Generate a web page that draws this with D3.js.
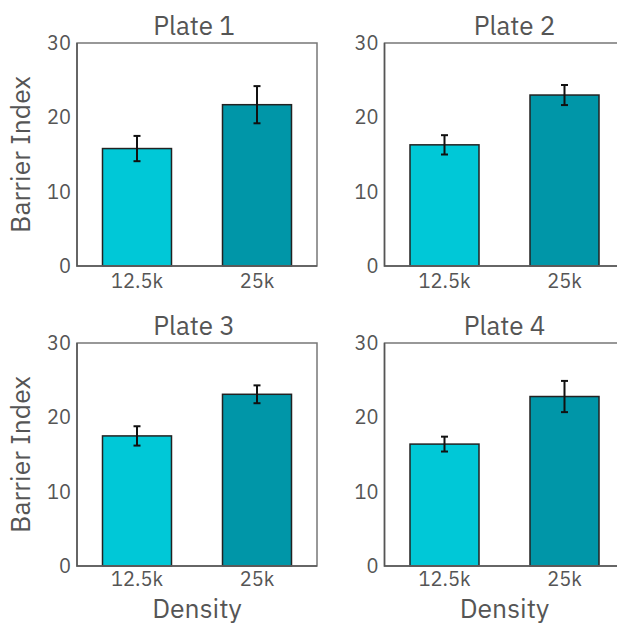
<!DOCTYPE html>
<html>
<head>
<meta charset="utf-8">
<script src="https://cdn.jsdelivr.net/npm/d3@7"></script>
<style>
  html, body { margin: 0; padding: 0; background: #fff; }
  svg { display: block; }
  text { font-family: "IBM Plex Sans", "Noto Sans", sans-serif; fill: #555; }
</style>
</head>
<body>
<svg id="chart" width="617" height="624"></svg>
<script>
// ---- data ----
const plates = ["Plate 1", "Plate 2", "Plate 3", "Plate 4"];
const densities = ["12.5k", "25k"];
const meanValues = [
  [15.8, 21.7],
  [16.3, 23.0],
  [17.5, 23.1],
  [16.4, 22.8]
];
const errorValues = [
  [1.7, 2.5],
  [1.3, 1.35],
  [1.3, 1.2],
  [1.0, 2.1]
];
const yTicks = [0, 10, 20, 30];
const yLabel = "Barrier Index";
const xLabel = "Density";

// ---- layout ----
const colLeft = [77, 384.5];
const rowTop = [43, 343];
const plotW = 240, plotH = 223;
const titleDx = [-3, 10, -3, 0];
const barColors = ["#00c8d7", "#0096a8"];
const fontFam = '"IBM Plex Sans", "Noto Sans", sans-serif';

const svg = d3.select("#chart");

plates.forEach((plate, i) => {
  const col = i % 2, row = Math.floor(i / 2);
  const g = svg.append("g").attr("transform", `translate(${colLeft[col]},${rowTop[row]})`);

  const x = d3.scaleBand().domain(densities).range([0, plotW])
    .paddingInner(0.425).paddingOuter(0.2125);
  const y = d3.scaleLinear().domain([0, 30]).range([plotH, 0]);

  const rows = densities.map((d, j) => ({ d, v: meanValues[i][j], e: errorValues[i][j], c: barColors[j] }));

  // bars
  g.selectAll("rect.bar").data(rows).join("rect")
    .attr("class", "bar")
    .attr("x", r => x(r.d))
    .attr("y", r => y(r.v))
    .attr("width", x.bandwidth())
    .attr("height", r => y(0) - y(r.v))
    .attr("fill", r => r.c)
    .attr("stroke", "#222")
    .attr("stroke-width", 1.5);

  // error bars
  const eg = g.selectAll("g.err").data(rows).join("g").attr("class", "err")
    .attr("stroke", "#111").attr("stroke-width", 2);
  const cx = r => x(r.d) + x.bandwidth() / 2;
  eg.append("line").attr("x1", cx).attr("x2", cx)
    .attr("y1", r => y(r.v + r.e)).attr("y2", r => y(r.v - r.e));
  eg.append("line").attr("x1", r => cx(r) - 3.5).attr("x2", r => cx(r) + 3.5)
    .attr("y1", r => y(r.v + r.e)).attr("y2", r => y(r.v + r.e));
  eg.append("line").attr("x1", r => cx(r) - 3.5).attr("x2", r => cx(r) + 3.5)
    .attr("y1", r => y(r.v - r.e)).attr("y2", r => y(r.v - r.e));

  // frame
  g.append("rect").attr("x", 0).attr("y", 0).attr("width", plotW).attr("height", plotH)
    .attr("fill", "none").attr("stroke", "#777").attr("stroke-width", 1.5);
  g.append("path").attr("d", `M0,0V${plotH}H${plotW}`)
    .attr("fill", "none").attr("stroke", "#555").attr("stroke-width", 1.5);

  // y axis
  const ya = g.append("g").call(d3.axisLeft(y).tickValues(yTicks).tickSize(0).tickPadding(6));
  ya.select(".domain").remove();
  ya.selectAll("text").style("font-size", "20px").attr("fill", "#555").style("font-family", fontFam);

  // x axis
  const xa = g.append("g").attr("transform", `translate(0,${plotH})`)
    .call(d3.axisBottom(x).tickSize(0).tickPadding(row === 0 ? 8 : 6));
  xa.select(".domain").remove();
  xa.selectAll("text").style("font-size", "20px").attr("fill", "#555").style("font-family", fontFam);

  // title
  g.append("text").attr("x", plotW / 2 + titleDx[i]).attr("y", -8)
    .attr("text-anchor", "middle").style("font-size", "26px").text(plate);

  if (col === 0) {
    g.append("text").attr("transform", `translate(${30 - colLeft[col]},${plotH / 2}) rotate(-90)`)
      .attr("text-anchor", "middle").style("font-size", "26.5px").text(yLabel);
  }
  if (row === 1) {
    g.append("text").attr("x", plotW / 2).attr("y", plotH + 52)
      .attr("text-anchor", "middle").style("font-size", "26.5px").text(xLabel);
  }
});
</script>
</body>
</html>
